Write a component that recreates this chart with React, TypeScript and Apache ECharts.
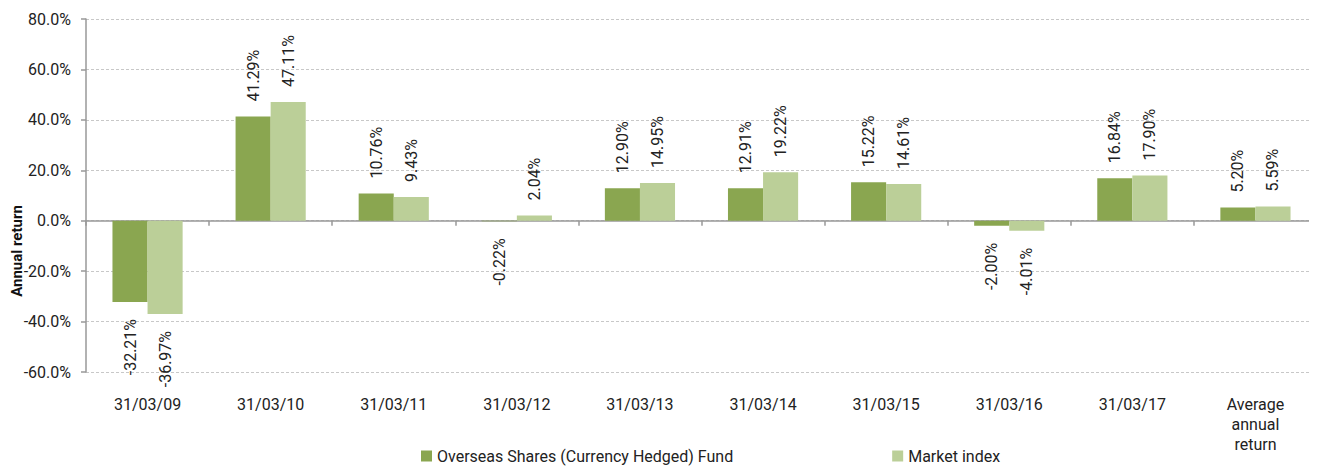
import React, { useEffect, useRef } from "react";
import * as echarts from "echarts";

const categories = ["31/03/09", "31/03/10", "31/03/11", "31/03/12", "31/03/13", "31/03/14", "31/03/15", "31/03/16", "31/03/17", "Average\nannual\nreturn"];
const fundValues = [-32.21, 41.29, 10.76, -0.22, 12.90, 12.91, 15.22, -2.00, 16.84, 5.20];
const marketValues = [-36.97, 47.11, 9.43, 2.04, 14.95, 19.22, 14.61, -4.01, 17.90, 5.59];
const seriesNames = ["Overseas Shares (Currency Hedged) Fund", "Market index"];
const colors = ["#8aa650", "#bbcf98"];

const FONT = "Roboto, 'Noto Sans', sans-serif";

function toData(vals: number[]) {
  return vals.map((v) =>
    v < 0
      ? { value: v, label: { position: "bottom", align: "right", distance: 17 } }
      : { value: v }
  );
}

export default function App() {
  const ref = useRef<HTMLDivElement>(null);
  useEffect(() => {
    if (!ref.current) return;
    const chart = echarts.init(ref.current, undefined, { renderer: "svg" });
    const labelCfg = {
      show: true,
      position: "top",
      rotate: 90,
      align: "left",
      verticalAlign: "middle",
      distance: 15,
      color: "#222",
      fontSize: 16,
      fontFamily: FONT,
      formatter: (p: any) => Number(p.value).toFixed(2) + "%",
    };
    chart.setOption({
      animation: false,
      grid: { left: 86, right: 0, top: 19, bottom: 94, containLabel: false },
      legend: {
        bottom: -3,
        left: 416,
        itemWidth: 11,
        itemHeight: 11,
        itemGap: 159,
        icon: "rect",
        textStyle: { fontSize: 16, color: "#222", fontFamily: FONT },
        data: seriesNames,
      },
      graphic: [
        {
          type: "text",
          x: 9,
          y: 251,
          rotation: Math.PI / 2,
          style: {
            text: "Annual return",
            fontSize: 15,
            fontWeight: "bold",
            fontFamily: FONT,
            fill: "#111",
            align: "center",
            verticalAlign: "top",
          },
        },
      ],
      xAxis: [
        {
          type: "category",
          data: categories,
          axisLine: { onZero: true, lineStyle: { color: "#999", width: 1.5 } },
          axisTick: { show: true, length: 5, lineStyle: { color: "#999", width: 1.5 } },
          axisLabel: { show: false },
        },
        {
          type: "category",
          data: categories,
          position: "bottom",
          axisLine: { show: false, onZero: false },
          axisTick: { show: false },
          axisLabel: {
            show: true,
            margin: 22,
            fontSize: 16,
            lineHeight: 20,
            color: "#222",
            fontFamily: FONT,
          },
        },
      ],
      yAxis: {
        type: "value",
        min: -60,
        max: 80,
        interval: 20,
        axisLine: { show: true, lineStyle: { color: "#999", width: 1.5 } },
        axisTick: { show: true, length: 5, lineStyle: { color: "#999", width: 1.5 } },
        axisLabel: {
          formatter: (v: number) => v.toFixed(1) + "%",
          fontSize: 16,
          color: "#222",
          margin: 15,
          fontFamily: FONT,
        },
        splitLine: { show: true, lineStyle: { color: "#c8c8c8", type: [3, 2], width: 1 } },
      },
      series: [
        {
          name: seriesNames[0],
          type: "bar",
          xAxisIndex: 0,
          data: toData(fundValues),
          itemStyle: { color: colors[0] },
          barGap: "0%",
          barCategoryGap: "43%",
          label: labelCfg,
        },
        {
          name: seriesNames[1],
          type: "bar",
          xAxisIndex: 0,
          data: toData(marketValues),
          itemStyle: { color: colors[1] },
          barGap: "0%",
          barCategoryGap: "43%",
          label: labelCfg,
        },
      ],
    });
    return () => chart.dispose();
  }, []);
  return <div ref={ref} style={{ width: 1317, height: 466, marginLeft: -8, marginTop: -8 }} />;
}
